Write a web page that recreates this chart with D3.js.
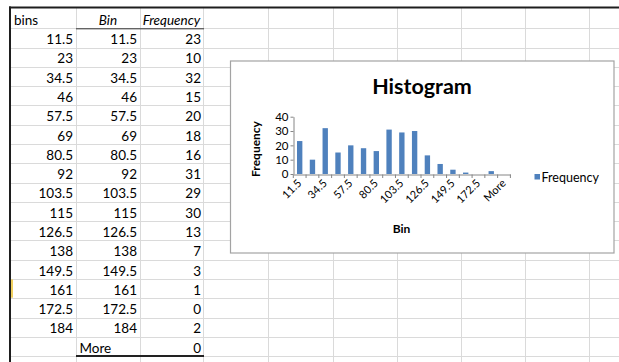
<!DOCTYPE html>
<html>
<head>
<meta charset="utf-8">
<script src="https://cdn.jsdelivr.net/npm/d3@7"></script>
<style>
  html, body { margin: 0; padding: 0; background: #fff; }
  svg { display: block; }
  text { font-family: Lato, "Open Sans", sans-serif; fill: #000; }
</style>
</head>
<body>
<svg id="sheet" width="619" height="362"></svg>
<script>
// Worksheet data
const headers = ["bins", "Bin", "Frequency"];
const bins = [11.5, 23, 34.5, 46, 57.5, 69, 80.5, 92, 103.5, 115, 126.5, 138, 149.5, 161, 172.5, 184];
const binCategories = ["11.5", "23", "34.5", "46", "57.5", "69", "80.5", "92", "103.5", "115",
                       "126.5", "138", "149.5", "161", "172.5", "184", "More"];
const frequency = [23, 10, 32, 15, 20, 18, 16, 31, 29, 30, 13, 7, 3, 1, 0, 2, 0];
const yTicks = [0, 10, 20, 30, 40];
const chartTitle = "Histogram";
const xTitle = "Bin";
const yTitle = "Frequency";
const seriesName = "Frequency";

const svg = d3.select("#sheet");
const W = 619, H = 362;

// ---- grid layout ----
const colEdges = [9, 76, 140, 203, 268, 333, 397, 461, 525, 589, 653];
const headerTop = 8, firstRow = 28.3, rowH = 19.28;
const rowCount = 18;
const rowEdges = d3.range(rowCount + 1).map(i => firstRow + i * rowH);

const grid = svg.append("g").attr("class", "grid");
grid.selectAll("line.h").data(rowEdges).join("line")
  .attr("x1", 10).attr("x2", W)
  .attr("y1", d => Math.round(d) + 0.5).attr("y2", d => Math.round(d) + 0.5)
  .attr("stroke", "#dadada").attr("stroke-width", 1);
grid.selectAll("line.v").data(colEdges.slice(1)).join("line")
  .attr("x1", d => d + 0.5).attr("x2", d => d + 0.5)
  .attr("y1", headerTop).attr("y2", H)
  .attr("stroke", "#dadada").attr("stroke-width", 1);

// window frame
svg.append("rect").attr("x", 9).attr("y", 6.5).attr("width", W).attr("height", 2).attr("fill", "#1e1e1e");
svg.append("rect").attr("x", 9).attr("y", 6.5).attr("width", 2).attr("height", H).attr("fill", "#1e1e1e");
// active-row marker
svg.append("rect").attr("x", 11).attr("y", rowEdges[13] + 0.5).attr("width", 2).attr("height", rowH - 1)
  .attr("fill", "#f0d060");

// ---- cells ----
const cells = svg.append("g").attr("class", "cells").style("font-size", "13.5px");
const baseOff = 3.4;
cells.append("text").attr("x", 14).attr("y", firstRow - baseOff).text(headers[0]);
cells.append("text").attr("x", (colEdges[1] + colEdges[2]) / 2).attr("y", firstRow - baseOff)
  .attr("text-anchor", "middle").style("font-style", "italic").text(headers[1]);
cells.append("text").attr("x", (colEdges[2] + colEdges[3]) / 2).attr("y", firstRow - baseOff)
  .attr("text-anchor", "middle").style("font-style", "italic").text(headers[2]);

cells.selectAll("text.a").data(bins).join("text")
  .attr("x", 73).attr("y", (d, i) => rowEdges[i + 1] - baseOff)
  .attr("text-anchor", "end").text(d => String(d));
cells.selectAll("text.b").data(binCategories).join("text")
  .attr("x", (d, i) => i === binCategories.length - 1 ? 79.5 : 137)
  .attr("y", (d, i) => rowEdges[i + 1] - baseOff)
  .attr("text-anchor", (d, i) => i === binCategories.length - 1 ? "start" : "end")
  .text(d => d);
cells.selectAll("text.c").data(frequency).join("text")
  .attr("x", 201).attr("y", (d, i) => rowEdges[i + 1] - baseOff)
  .attr("text-anchor", "end").text(d => String(d));

// table header / total rules
svg.append("line").attr("x1", 76).attr("x2", 204).attr("y1", 28.8).attr("y2", 28.8)
  .attr("stroke", "#333").attr("stroke-width", 1);
svg.append("line").attr("x1", 76).attr("x2", 204)
  .attr("y1", rowEdges[binCategories.length]).attr("y2", rowEdges[binCategories.length])
  .attr("stroke", "#222").attr("stroke-width", 2);

// ---- chart ----
const chart = svg.append("g").attr("class", "chart");
chart.append("rect").attr("x", 230.5).attr("y", 61).attr("width", 383.5).attr("height", 192)
  .attr("fill", "#fff").attr("stroke", "#a3a3a3").attr("stroke-width", 1.2);

chart.append("text").attr("x", 422).attr("y", 93.5).attr("text-anchor", "middle")
  .style("font-weight", "bold").style("font-size", "21.5px").text(chartTitle);

const x = d3.scaleBand().domain(binCategories).range([293.3, 510.4])
  .paddingInner(0.58).paddingOuter(0.29);
const y = d3.scaleLinear().domain([0, 40]).range([174, 116.7]);

// bars
chart.append("g").selectAll("rect").data(binCategories.map((c, i) => ({ c, v: frequency[i] })))
  .join("rect")
  .attr("x", d => x(d.c)).attr("width", x.bandwidth())
  .attr("y", d => y(d.v)).attr("height", d => y(0) - y(d.v))
  .attr("fill", "#4f81bd");

// y axis
const yAxis = chart.append("g").attr("transform", "translate(293.5,0)")
  .call(d3.axisLeft(y).tickValues(yTicks).tickSize(3).tickSizeOuter(0).tickPadding(2));
yAxis.select(".domain").attr("stroke", "#868686");
yAxis.selectAll(".tick line").attr("stroke", "#868686");
yAxis.selectAll(".tick text").style("font-size", "11.5px").style("font-family", "Lato, sans-serif")
  .attr("fill", "#000");

// x axis line with boundary ticks
const step = x.step();
const x0 = x(binCategories[0]) - (step - x.bandwidth()) / 2;
const xAxis = chart.append("g").attr("transform", "translate(0,174.5)")
  .call(d3.axisBottom(x).tickSize(0).tickSizeOuter(0).tickFormat(""));
xAxis.select(".domain").attr("stroke", "#868686");
chart.append("g").selectAll("line").data(d3.range(binCategories.length + 1)).join("line")
  .attr("x1", i => x0 + i * step).attr("x2", i => x0 + i * step)
  .attr("y1", 174.5).attr("y2", 178).attr("stroke", "#868686");

// rotated category labels (every second)
chart.append("g").selectAll("text")
  .data(binCategories.filter((c, i) => i % 2 === 0)).join("text")
  .attr("transform", c => `translate(${x(c) + x.bandwidth() / 2 + 2.5},184) rotate(-45)`)
  .attr("text-anchor", "end").style("font-size", "11px").text(c => c);

// axis titles
chart.append("text").attr("x", 401.5).attr("y", 233).attr("text-anchor", "middle")
  .style("font-weight", "bold").style("font-size", "12px").text(xTitle);
chart.append("text").attr("transform", "translate(259.5,149) rotate(-90)")
  .attr("text-anchor", "middle")
  .style("font-weight", "bold").style("font-size", "12px").text(yTitle);

// legend
chart.append("rect").attr("x", 534.5).attr("y", 174).attr("width", 5.5).attr("height", 5.5)
  .attr("fill", "#4f81bd");
chart.append("text").attr("x", 541.5).attr("y", 181.5).style("font-size", "12.5px").text(seriesName);
</script>
</body>
</html>
